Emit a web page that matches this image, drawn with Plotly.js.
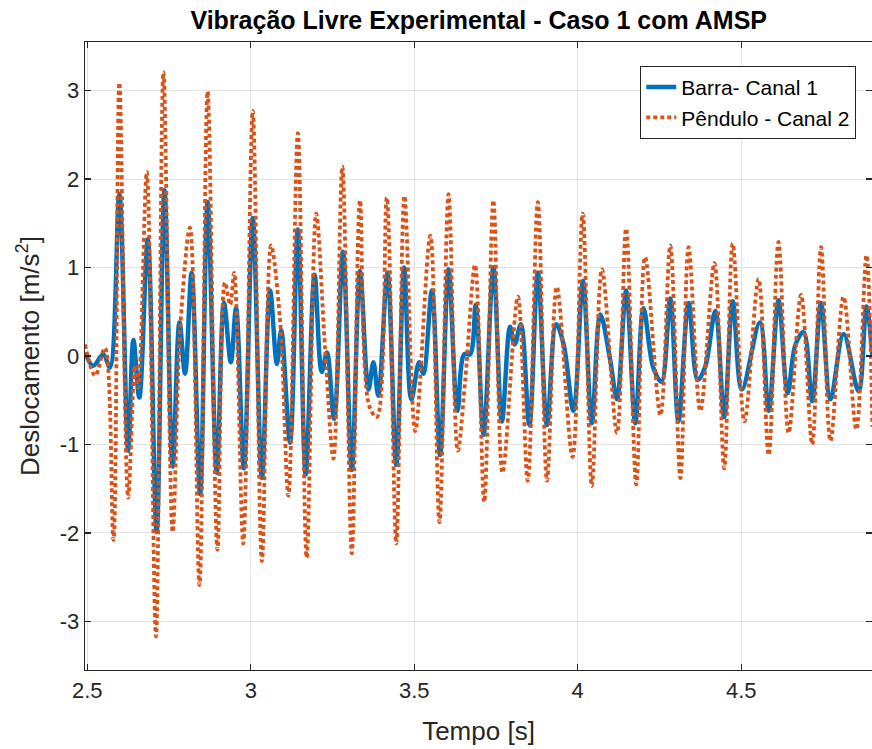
<!DOCTYPE html>
<html>
<head>
<meta charset="utf-8">
<script src="https://cdn.plot.ly/plotly-3.0.1.min.js"></script>
<style>html,body{margin:0;padding:0;background:#fff;}#chart{width:872px;height:749px;}</style>
</head>
<body>
<div id="chart"></div>
<script>
// Barra - Canal 1 (extrema)
const barraT = [2.493,2.518,2.549,2.569,2.598,2.625,2.641,2.659,2.685,2.712,2.736,2.761,2.782,2.799,2.819,2.845,2.868,2.896,2.918,2.939,2.955,2.979,3.006,3.034,3.059,3.080,3.093,3.120,3.144,3.168,3.195,3.217,3.233,3.255,3.282,3.309,3.334,3.360,3.375,3.390,3.418,3.445,3.469,3.491,3.515,3.528,3.554,3.579,3.605,3.632,3.653,3.671,3.688,3.712,3.742,3.768,3.793,3.807,3.826,3.852,3.878,3.906,3.934,3.957,3.987,4.016,4.043,4.069,4.099,4.120,4.148,4.176,4.201,4.231,4.256,4.283,4.308,4.339,4.367,4.390,4.421,4.448,4.474,4.502,4.557,4.584,4.614,4.642,4.666,4.691,4.717,4.744,4.773,4.813,4.859,4.883,4.901];
const barraV = [0.04,-0.11,0.02,-0.13,1.83,-1.07,0.18,-0.47,1.32,-1.99,1.875,-1.25,0.38,-0.2,0.94,-1.56,1.74,-1.32,0.6,-0.07,0.54,-1.27,1.56,-1.38,0.74,-0.09,0.29,-0.98,1.43,-1.34,0.92,-0.18,0.04,-0.71,1.18,-1.29,0.96,-0.38,-0.07,-0.45,0.94,-1.23,1.0,-0.49,-0.07,-0.2,0.74,-1.12,0.98,-0.62,0.02,0.02,0.58,-0.89,1.0,-0.74,0.33,0.13,0.36,-0.78,0.94,-0.78,0.36,0.13,-0.62,0.85,-0.76,0.47,-0.04,-0.49,0.74,-0.76,0.54,-0.13,-0.29,0.65,-0.74,0.6,-0.27,-0.12,0.51,-0.69,0.62,-0.38,0.38,-0.62,0.63,-0.42,0.13,0.27,-0.51,0.6,-0.49,0.25,-0.4,0.56,0.0];

// Pêndulo - Canal 2 (extrema)
const penduloT = [2.493,2.524,2.554,2.580,2.598,2.625,2.646,2.656,2.682,2.710,2.733,2.761,2.784,2.814,2.843,2.868,2.898,2.921,2.937,2.949,2.977,3.006,3.034,3.062,3.090,3.115,3.144,3.171,3.200,3.227,3.253,3.280,3.309,3.334,3.362,3.386,3.416,3.445,3.470,3.503,3.549,3.577,3.605,3.633,3.656,3.686,3.714,3.742,3.770,3.817,3.847,3.878,3.906,3.936,3.984,4.015,4.043,4.074,4.120,4.148,4.179,4.206,4.253,4.283,4.314,4.339,4.375,4.418,4.448,4.474,4.510,4.553,4.584,4.614,4.645,4.683,4.717,4.744,4.773,4.813,4.852,4.883,4.901];
const penduloV = [0.13,-0.22,0.09,-2.08,3.09,-1.6,-0.11,-0.36,2.08,-3.17,3.21,-1.99,0.3,1.45,-2.59,2.99,-2.19,0.83,0.58,0.94,-2.12,2.77,-2.32,1.25,0.38,-1.58,2.52,-2.28,1.61,0.1,-1.16,2.14,-2.23,1.76,-0.56,-0.69,1.79,-2.12,1.81,-0.85,1.36,-1.88,1.83,-1.07,-0.27,1.03,-1.65,1.76,-1.32,0.67,-1.41,1.74,-1.41,0.78,-1.14,1.61,-1.47,0.98,-0.87,1.44,-1.45,1.12,-0.67,1.25,-1.38,1.23,-0.62,1.05,-1.27,1.27,-0.74,0.87,-1.12,1.29,-0.87,0.69,-1.0,1.23,-0.96,0.67,-0.83,1.14,-0.8];

const xTicks = [2.5,3,3.5,4,4.5];
const xTickText = ['2.5','3','3.5','4','4.5'];
const yTicks = [-3,-2,-1,0,1,2,3];
const yTickText = ['-3','-2','-1','0','1','2','3'];

const traces = [
  {x: barraT, y: barraV, type: 'scatter', mode: 'lines', name: 'Barra- Canal 1',
   line: {color: '#0072BD', width: 4.5, shape: 'spline', smoothing: 1}},
  {x: penduloT, y: penduloV, type: 'scatter', mode: 'lines', name: 'Pêndulo - Canal 2',
   line: {color: '#D95319', width: 3.8, dash: '4px,3px', shape: 'spline', smoothing: 1}}
];

const axisCommon = {
  showline: true, linecolor: '#262626', linewidth: 1.3, mirror: 'ticks',
  ticks: 'inside', ticklen: 6, tickcolor: '#262626', tickwidth: 1.3,
  showgrid: true, gridcolor: '#e3e3e3', gridwidth: 1, zeroline: false,
  tickfont: {family: 'Liberation Sans, Arial, sans-serif', size: 22, color: '#262626'}
};

const layout = {
  width: 872, height: 749,
  margin: {l: 85, r: 0, t: 42, b: 79},
  paper_bgcolor: '#fff', plot_bgcolor: '#fff',
  font: {family: 'Liberation Sans, Arial, sans-serif', color: '#262626'},
  title: {text: '<b>Vibração Livre Experimental - Caso 1 com AMSP</b>',
          font: {family: 'Liberation Sans, Arial, sans-serif', size: 25, color: '#000'},
          x: 0.549, xanchor: 'center', y: 0.973, yanchor: 'middle'},
  xaxis: Object.assign({}, axisCommon, {
    range: [2.493, 4.9], tickvals: xTicks, ticktext: xTickText,
    title: {text: 'Tempo [s]', font: {size: 26, color: '#262626'}, standoff: 20}
  }),
  yaxis: Object.assign({}, axisCommon, {
    range: [-3.55, 3.55], tickvals: yTicks, ticktext: yTickText,
    title: {text: 'Deslocamento [m/s<sup>2</sup>]', font: {size: 26, color: '#262626'}, standoff: 12}
  }),
  showlegend: true,
  legend: {x: 0.98, xanchor: 'right', y: 0.962, yanchor: 'top',
           bgcolor: '#fff', bordercolor: '#262626', borderwidth: 1,
           font: {family: 'Liberation Sans, Arial, sans-serif', size: 21, color: '#000'},
           tracegroupgap: 0}
};

Plotly.newPlot('chart', traces, layout, {displayModeBar: false, staticPlot: true});
</script>
</body>
</html>
